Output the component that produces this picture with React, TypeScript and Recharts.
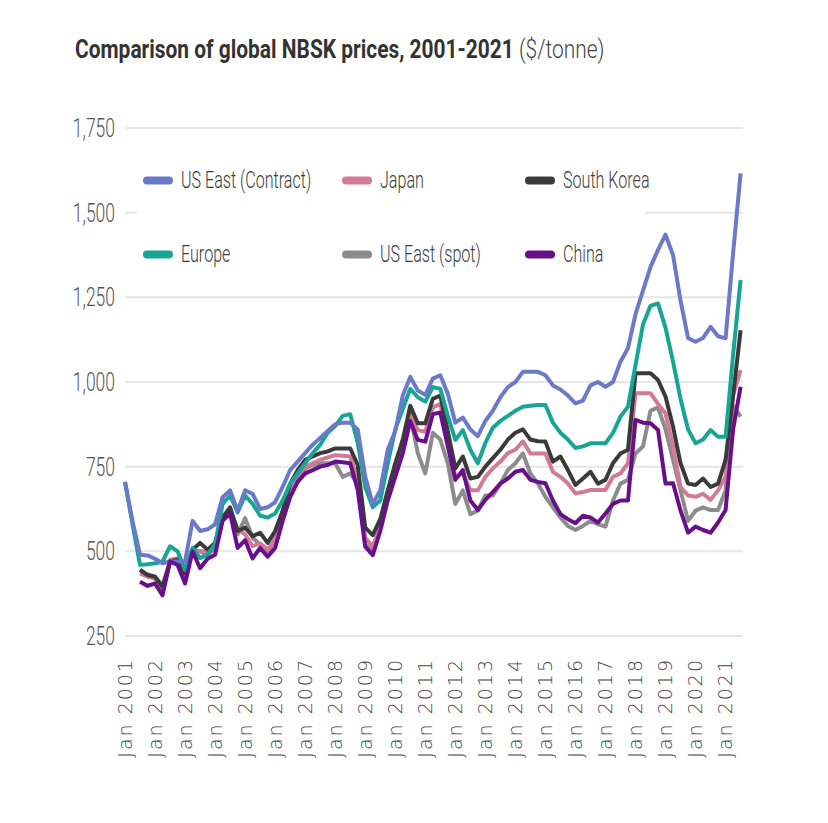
import React from 'react'
import {
  LineChart,
  Line,
  XAxis,
  YAxis,
  CartesianGrid
} from 'recharts'

// quarterly readings, Jan 2001 .. Jul 2021 (83 points)
const QUARTERS = Array.from({ length: 83 }, (_, i) => 2001 + i / 4)

const YEAR_TICKS = [
  2001, 2002, 2003, 2004, 2005, 2006, 2007, 2008, 2009, 2010, 2011,
  2012, 2013, 2014, 2015, 2016, 2017, 2018, 2019, 2020, 2021
]
const PRICE_TICKS = [250, 500, 750, 1000, 1250, 1500, 1750]

const usEastContract = [
  705, 590, 490, 488, // 2001
  478, 465, 470, 470,
  470, 590, 560, 565,
  580, 660, 680, 620,
  680, 670, 625, 630, // 2005
  645, 690, 740, 765,
  790, 815, 835, 855,
  875, 880, 880, 860,
  720, 640, 680, 800,
  855, 960, 1015, 975, // 2010
  962, 1010, 1020, 965,
  880, 895, 860, 840,
  885, 915, 955, 985,
  1000, 1030, 1030, 1030,
  1020, 990, 978, 960, // 2015
  937, 945, 990, 1000,
  986, 1000, 1060, 1100,
  1200, 1270, 1340, 1390,
  1435, 1375, 1240, 1130,
  1119, 1130, 1163, 1135, // 2020
  1129, 1380, 1616
]

const europe = [
  705, 580, 460, 462,
  465, 470, 515, 500,
  445, 510, 480, 490,
  520, 640, 665, 615,
  665, 640, 605, 600,
  612, 650, 700, 730,
  760, 790, 815, 850,
  870, 900, 905, 820,
  690, 630, 650, 760,
  860, 920, 980, 955,
  942, 985, 980, 900,
  829, 858, 800, 760,
  820, 865, 885, 900,
  915, 927, 930, 932,
  932, 880, 850, 830,
  805, 810, 819, 819,
  819, 850, 898, 927,
  1050, 1170, 1225, 1232,
  1160, 1060, 950, 860,
  819, 830, 858, 838,
  838, 1080, 1301
]

const japan = [
  null, null, 435, 425,
  420, 380, 475, 480,
  435, 505, 500, 500,
  520, 595, 622, 565,
  550, 515, 524, 505,
  535, 600, 665, 720,
  750, 760, 770, 777,
  784, 782, 780, 711,
  540, 514, 575, 665,
  740, 809, 905, 858,
  853, 925, 935, 840,
  720, 730, 680, 680,
  720, 745, 765, 790,
  800, 825, 789, 789,
  789, 735, 720, 700,
  671, 675, 681, 681,
  681, 720, 730, 760,
  967, 967, 967, 935,
  907, 809, 690, 665,
  661, 670, 652, 680,
  720, 960, 1035
]

const southKorea = [
  null, null, 445, 430,
  425, 395, 470, 475,
  435, 505, 525, 505,
  525, 600, 630, 560,
  570, 545, 555, 525,
  560, 620, 700, 740,
  770, 780, 790, 795,
  804, 804, 804, 755,
  570, 548, 595, 680,
  760, 829, 930, 878,
  878, 950, 960, 855,
  745, 780, 715, 720,
  750, 775, 800, 830,
  850, 860, 830, 825,
  824, 765, 780, 740,
  696, 715, 735, 700,
  711, 760, 789, 800,
  1026, 1026, 1026, 1006,
  957, 868, 760, 700,
  696, 715, 690, 700,
  770, 960, 1153
]

const usEastSpot = [
  null, null, 445, 432,
  425, 398, 470, 475,
  430, 500, 500, 490,
  510, 600, 615, 550,
  598, 540, 520, 490,
  540, 610, 680, 715,
  745, 755, 760, 760,
  760, 720, 730, 700,
  520, 500, 570, 670,
  740, 830, 900, 790,
  730, 850, 830, 760,
  640, 680, 610, 620,
  665, 665, 700, 740,
  760, 789, 730, 700,
  661, 630, 600, 575,
  563, 575, 590, 580,
  573, 650, 700, 711,
  789, 810, 915, 925,
  860, 770, 680, 590,
  620, 630, 622, 622,
  680, 930, 898
]

const china = [
  null, null, 410, 398,
  405, 370, 470, 460,
  405, 500, 450, 478,
  490, 590, 612, 510,
  533, 479, 510, 484,
  510, 590, 660, 705,
  730, 740, 750, 755,
  765, 763, 760, 681,
  514, 489, 560, 650,
  720, 789, 885, 829,
  824, 905, 910, 810,
  711, 740, 650, 622,
  652, 675, 700, 715,
  735, 740, 711, 705,
  701, 650, 610, 595,
  583, 605, 600, 585,
  612, 640, 650, 650,
  888, 880, 878, 858,
  700, 701, 620, 555,
  573, 563, 555, 585,
  622, 860, 986
]

const SERIES = [
  { key: 'spot', name: 'US East (spot)', color: '#8c8c8c', values: usEastSpot },
  { key: 'japan', name: 'Japan', color: '#d27a98', values: japan },
  { key: 'korea', name: 'South Korea', color: '#3a3a3a', values: southKorea },
  { key: 'europe', name: 'Europe', color: '#17a596', values: europe },
  { key: 'contract', name: 'US East (Contract)', color: '#6b79c9', values: usEastContract },
  { key: 'china', name: 'China', color: '#6a0f8b', values: china }
]

// legend reads left-to-right, top-to-bottom
const LEGEND_ORDER = ['contract', 'japan', 'korea', 'europe', 'spot', 'china']

const data = QUARTERS.map((t, i) => {
  const row: any = { t }
  SERIES.forEach(s => { row[s.key] = s.values[i] })
  return row
})

const FONT = 'Roboto, "Liberation Sans", sans-serif'

function YearTick({ x, y, payload }: any) {
  const ty = y + 14
  return (
    <text
      x={x}
      y={ty}
      transform={`rotate(-90 ${x} ${ty})`}
      textAnchor="end"
      dy="0.36em"
      fill="#444"
      fontSize={19}
      letterSpacing={2}
      fontFamily='"DejaVu Sans", sans-serif'
      fontWeight={300}
    >
      {`Jan ${payload.value}`}
    </text>
  )
}

function PriceTick({ x, y, payload }: any) {
  return (
    <text
      x={x}
      y={y}
      dy="0.36em"
      textAnchor="end"
      transform={`translate(${x} 0) scale(0.7 1) translate(${-x} 0)`}
      fill="#555"
      fontSize={25}
      fontWeight={300}
      fontFamily={FONT}
    >
      {payload.value.toLocaleString('en-US')}
    </text>
  )
}

function LegendBox() {
  const cols = [6, 205, 388]
  return (
    <div
      style={{
        position: 'absolute',
        left: 129,
        top: 146,
        width: 508,
        height: 112,
        background: '#fff'
      }}
    >
      {LEGEND_ORDER.map((k, i) => {
        const s = SERIES.find(d => d.key === k)!
        return (
          <div
            key={k}
            style={{
              position: 'absolute',
              left: cols[i % 3],
              top: i < 3 ? 26 : 100,
              transform: 'translateY(-50%)',
              display: 'flex',
              alignItems: 'center',
              whiteSpace: 'nowrap'
            }}
          >
            <span
              style={{
                display: 'inline-block',
                width: 30,
                height: 8,
                borderRadius: 4,
                background: s.color,
                marginRight: 8
              }}
            />
            <span
              style={{
                display: 'inline-block',
                fontFamily: FONT,
                fontWeight: 300,
                fontSize: 23,
                color: '#3d3d3d',
                transform: 'scaleX(0.7)',
                transformOrigin: 'left center'
              }}
            >
              {s.name}
            </span>
          </div>
        )
      })}
    </div>
  )
}

export default function App() {
  return (
    <div style={{ position: 'relative', width: 800, height: 800 }}>
      <svg
        width={800}
        height={70}
        style={{ position: 'absolute', left: 0, top: 0 }}
      >
        <text
          x={67}
          y={50}
          transform="translate(67 0) scale(0.805 1) translate(-67 0)"
          fontFamily={FONT}
          fontSize={26}
          fill="#333"
        >
          <tspan fontWeight={700}>Comparison of global NBSK prices, 2001-2021</tspan>
          <tspan fontWeight={300} fill="#444"> ($/tonne)</tspan>
        </text>
      </svg>
      <LineChart
        width={800}
        height={800}
        data={data}
        margin={{ top: 120, right: 65, left: 0, bottom: 42 }}
      >
        <CartesianGrid vertical={false} stroke="#e6e6e6" strokeWidth={2} />
        <XAxis
          dataKey="t"
          type="number"
          domain={[2001, 2021.58]}
          ticks={YEAR_TICKS}
          tick={<YearTick />}
          axisLine={false}
          tickLine={false}
          height={130}
          interval={0}
        />
        <YAxis
          domain={[250, 1750]}
          ticks={PRICE_TICKS}
          width={117}
          axisLine={false}
          tickLine={false}
          tickMargin={4}
          tick={<PriceTick />}
        />
        {SERIES.map(s => (
          <Line
            key={s.key}
            dataKey={s.key}
            name={s.name}
            stroke={s.color}
            strokeWidth={4}
            dot={false}
            type="linear"
            strokeLinejoin="round"
            connectNulls={false}
            isAnimationActive={false}
          />
        ))}
      </LineChart>
      <LegendBox />
    </div>
  )
}
